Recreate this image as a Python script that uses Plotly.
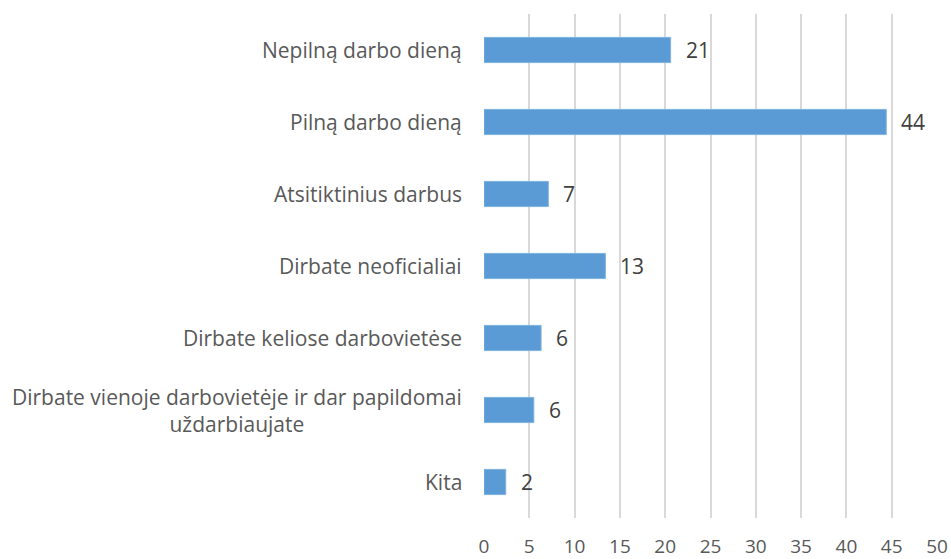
import plotly.graph_objects as go

categories = [
    "Nepilną darbo dieną",
    "Pilną darbo dieną",
    "Atsitiktinius darbus",
    "Dirbate neoficialiai",
    "Dirbate keliose darbovietėse",
    "Dirbate vienoje darbovietėje ir dar papildomai<br>uždarbiaujate",
    "Kita",
]
values = [20.6, 44.4, 7.1, 13.4, 6.3, 5.5, 2.4]
x_ticks = [0, 5, 10, 15, 20, 25, 30, 35, 40, 45, 50]

FONT = "Open Sans"
GREY = "#595959"

fig = go.Figure()
fig.add_trace(go.Bar(
    x=values,
    y=categories,
    orientation="h",
    width=0.35,
    marker=dict(color="#5B9BD5", line=dict(color="#7FB2E0", width=1)),
    hoverinfo="x+y",
))

annotations = []
for c, v in zip(categories, values):
    annotations.append(dict(
        x=v, y=c, xref="x", yref="y", text=f"{round(v):d}",
        showarrow=False, xanchor="left", yanchor="middle", xshift=13,
        font=dict(family=FONT, size=21, color="#404040"),
    ))
    annotations.append(dict(
        x=0, y=c, xref="paper", yref="y", text=c,
        showarrow=False, xanchor="right", yanchor="middle", xshift=-20,
        align="center",
        font=dict(family=FONT, size=21, color=GREY),
    ))

fig.update_layout(
    width=951, height=559,
    margin=dict(l=484, r=14, t=14, b=41, autoexpand=False),
    paper_bgcolor="white", plot_bgcolor="white",
    showlegend=False,
    bargap=0.65,
    annotations=annotations,
    font=dict(family=FONT, color=GREY),
)
fig.update_xaxes(
    range=[0, 50], tickvals=x_ticks, ticktext=[str(t) for t in x_ticks],
    showgrid=True, gridcolor="#D9D9D9", gridwidth=2,
    zeroline=False, showline=False, ticks="",
    ticklabelstandoff=15, automargin=False,
    tickfont=dict(family=FONT, size=19, color=GREY),
)
fig.update_yaxes(
    autorange="reversed", showticklabels=False, showgrid=False,
    zeroline=False, showline=False, ticks="", automargin=False,
)

# remove the page's default 8px body margin so the figure fills the window
fig.write_html(
    "out.html",
    config={"displayModeBar": False},
    post_script="document.body.style.margin='0';document.body.style.overflow='hidden';",
)
